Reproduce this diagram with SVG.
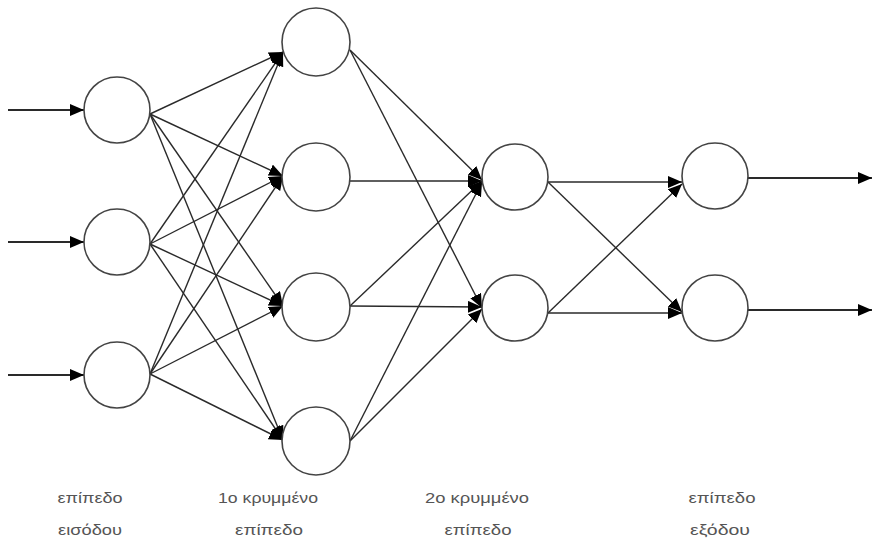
<svg xmlns="http://www.w3.org/2000/svg" width="872" height="538" viewBox="0 0 872 538">
<defs>
<marker id="arr" markerUnits="userSpaceOnUse" markerWidth="16" markerHeight="14" refX="14" refY="6" orient="auto">
<path d="M0,0 L14,6 L0,12 z" fill="#000"/>
</marker>
<style>
.n{fill:#fff;stroke:#444;stroke-width:1.6}
.e{stroke:#2a2a2a;stroke-width:1.4;fill:none;marker-end:url(#arr)}
.io{stroke:#2a2a2a;stroke-width:1.9;fill:none;marker-end:url(#arr)}
.t{font-family:"Liberation Sans",Arial,sans-serif;font-size:15px;fill:#555;text-anchor:middle}
</style>
</defs>
<rect width="872" height="538" fill="#fff"/>
<g id="connectors">
<line class="io" x1="8" y1="110" x2="84" y2="110"/>
<line class="io" x1="8" y1="242" x2="84" y2="242"/>
<line class="io" x1="8" y1="375" x2="84" y2="375"/>
<line class="e" x1="150" y1="114" x2="283" y2="52"/>
<line class="e" x1="150" y1="114" x2="283" y2="176"/>
<line class="e" x1="150" y1="114" x2="283" y2="306"/>
<line class="e" x1="150" y1="114" x2="283" y2="440"/>
<line class="e" x1="150" y1="244" x2="283" y2="52"/>
<line class="e" x1="150" y1="244" x2="283" y2="176"/>
<line class="e" x1="150" y1="244" x2="283" y2="306"/>
<line class="e" x1="150" y1="244" x2="283" y2="440"/>
<line class="e" x1="150" y1="374" x2="283" y2="52"/>
<line class="e" x1="150" y1="374" x2="283" y2="176"/>
<line class="e" x1="150" y1="374" x2="283" y2="306"/>
<line class="e" x1="150" y1="374" x2="283" y2="440"/>
<line class="e" x1="350" y1="50" x2="482" y2="180"/>
<line class="e" x1="350" y1="50" x2="482" y2="308"/>
<line class="e" x1="350" y1="181" x2="482" y2="181"/>
<line class="e" x1="350" y1="306" x2="482" y2="181"/>
<line class="e" x1="350" y1="306" x2="482" y2="307"/>
<line class="e" x1="350" y1="441" x2="482" y2="182"/>
<line class="e" x1="350" y1="441" x2="482" y2="309"/>
<line class="e" x1="548" y1="182" x2="682" y2="182"/>
<line class="e" x1="548" y1="182" x2="682" y2="312"/>
<line class="e" x1="548" y1="313" x2="682" y2="313"/>
<line class="e" x1="548" y1="313" x2="682" y2="184"/>
<line class="io" x1="748" y1="178" x2="872" y2="178"/>
<line class="io" x1="748" y1="310" x2="872" y2="310"/>
</g>
<g id="in1"><circle class="n" cx="117" cy="110" r="33"/></g>
<g id="in2"><circle class="n" cx="117" cy="242" r="33"/></g>
<g id="in3"><circle class="n" cx="117" cy="375" r="33"/></g>
<g id="h1a"><circle class="n" cx="316" cy="42" r="34"/></g>
<g id="h1b"><circle class="n" cx="316" cy="177" r="34"/></g>
<g id="h1c"><circle class="n" cx="316" cy="307" r="34"/></g>
<g id="h1d"><circle class="n" cx="316" cy="441" r="34"/></g>
<g id="h2a"><circle class="n" cx="515" cy="177" r="33"/></g>
<g id="h2b"><circle class="n" cx="515" cy="308" r="33"/></g>
<g id="out1"><circle class="n" cx="715" cy="176" r="33"/></g>
<g id="out2"><circle class="n" cx="715" cy="308" r="33"/></g>
<g id="labels">
<text class="t" x="90" y="503" textLength="65" lengthAdjust="spacingAndGlyphs">επίπεδο</text>
<text class="t" x="90" y="535" textLength="64" lengthAdjust="spacingAndGlyphs">εισόδου</text>
<text class="t" x="268" y="503" textLength="100" lengthAdjust="spacingAndGlyphs">1ο κρυμμένο</text>
<text class="t" x="269" y="535" textLength="68" lengthAdjust="spacingAndGlyphs">επίπεδο</text>
<text class="t" x="477" y="503" textLength="104" lengthAdjust="spacingAndGlyphs">2ο κρυμμένο</text>
<text class="t" x="478" y="535" textLength="67" lengthAdjust="spacingAndGlyphs">επίπεδο</text>
<text class="t" x="722" y="503" textLength="67" lengthAdjust="spacingAndGlyphs">επίπεδο</text>
<text class="t" x="720" y="535" textLength="60" lengthAdjust="spacingAndGlyphs">εξόδου</text>
</g>
</svg>
